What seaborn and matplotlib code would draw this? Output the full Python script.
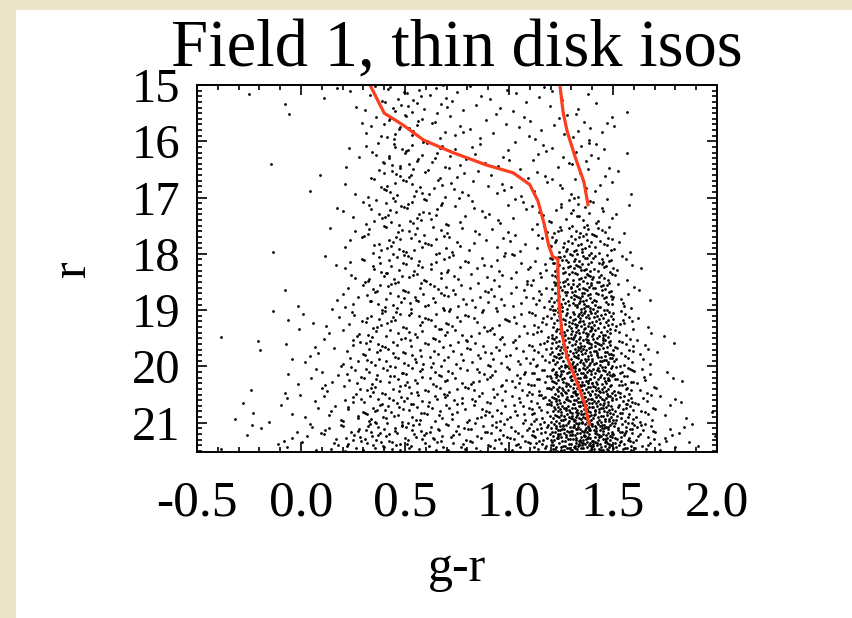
import numpy as np
import pandas as pd
import matplotlib
matplotlib.use("Agg")
import matplotlib.pyplot as plt
from matplotlib.ticker import MultipleLocator
from matplotlib.patches import Rectangle
import seaborn as sns

# star counts, per cell of 0.1 in g-r by 0.5 in r
color_edges = [round(-0.5 + 0.1 * i, 1) for i in range(25)]
mag_edges = [15.0, 15.5, 16.0, 16.5, 17.0, 17.5, 18.0, 18.5, 19.0, 19.5, 20.0, 20.5, 21.0]
counts = [
    [0, 0, 1, 0, 1, 0, 2, 2, 4, 8, 8, 5, 4, 3, 3, 3, 3, 2, 2, 1, 1, 0, 0, 0, 0],
    [0, 0, 0, 0, 1, 0, 0, 1, 4, 9, 8, 6, 4, 3, 3, 3, 3, 4, 6, 3, 1, 0, 0, 0, 0],
    [0, 0, 0, 1, 0, 0, 0, 3, 5, 10, 9, 7, 5, 4, 3, 3, 4, 4, 6, 4, 1, 0, 0, 0, 0],
    [0, 0, 0, 0, 0, 2, 0, 2, 6, 10, 9, 7, 5, 4, 4, 3, 4, 4, 5, 4, 2, 0, 0, 0, 0],
    [0, 0, 0, 0, 0, 0, 1, 3, 7, 11, 10, 8, 5, 4, 4, 4, 5, 7, 10, 7, 2, 0, 0, 0, 0],
    [0, 0, 0, 1, 0, 0, 1, 4, 8, 11, 10, 8, 6, 5, 5, 5, 7, 16, 22, 14, 4, 0, 0, 0, 0],
    [0, 0, 0, 0, 0, 0, 2, 5, 9, 12, 11, 9, 7, 6, 6, 6, 8, 25, 32, 22, 6, 1, 0, 0, 0],
    [0, 0, 0, 0, 2, 0, 2, 6, 10, 12, 11, 10, 8, 8, 7, 7, 10, 30, 40, 28, 8, 2, 0, 0, 0],
    [0, 1, 0, 1, 2, 2, 3, 7, 11, 12, 11, 10, 9, 8, 8, 8, 12, 34, 45, 34, 13, 3, 1, 0, 0],
    [0, 0, 1, 1, 2, 4, 3, 8, 12, 12, 11, 10, 9, 9, 9, 9, 14, 38, 48, 40, 18, 6, 2, 0, 0],
    [0, 0, 1, 0, 3, 3, 5, 9, 13, 13, 12, 11, 10, 10, 10, 11, 17, 42, 54, 45, 24, 9, 3, 1, 0],
    [0, 1, 2, 1, 4, 3, 5, 10, 14, 14, 13, 12, 11, 11, 11, 12, 19, 46, 58, 50, 28, 12, 5, 2, 1],
    [0, 1, 2, 2, 4, 6, 8, 14, 17, 16, 15, 14, 13, 13, 13, 15, 24, 54, 66, 58, 36, 16, 8, 4, 2],
]

# isochrones
iso1_color = [0.325, 0.40, 0.49, 0.59, 0.73, 0.89, 1.02, 1.10, 1.14, 1.17, 1.19, 1.21,
              1.235, 1.235, 1.24, 1.255, 1.28, 1.33, 1.365, 1.385]
iso1_r = [14.95, 15.50, 15.71, 15.98, 16.20, 16.42, 16.56, 16.77, 17.07, 17.48, 17.84, 18.05,
          18.09, 18.24, 18.83, 19.43, 19.84, 20.32, 20.67, 21.03]
iso2_color = [1.243, 1.26, 1.28, 1.32, 1.36, 1.38]
iso2_r = [14.95, 15.48, 15.83, 16.30, 16.72, 17.13]


def vdc(n, base):
    # van der Corput radical inverse, for an even spread inside a cell
    q, d = 0.0, 1.0
    while n:
        n, rem = divmod(n, base)
        d *= base
        q += rem / d
    return q


xs, ys = [], []
k = 0
for j, r0 in enumerate(mag_edges):
    for i, c0 in enumerate(color_edges):
        for _ in range(counts[j][i]):
            k += 1
            xs.append(c0 + 0.1 * vdc(k, 2))
            ys.append(r0 + 0.5 * vdc(k, 3))
stars = pd.DataFrame({"g-r": xs, "r": ys})

sns.set_style("ticks")
plt.rcParams["font.family"] = ["Liberation Serif", "DejaVu Serif"]
plt.rcParams["axes.unicode_minus"] = False
plt.rcParams["text.color"] = "black"
plt.rcParams["axes.labelcolor"] = "black"
plt.rcParams["xtick.color"] = "black"
plt.rcParams["ytick.color"] = "black"

fig = plt.figure(figsize=(8.53, 6.18), dpi=100)
fig.patch.set_facecolor("#ebe5c9")
panel = Rectangle((16 / 853, 0), 1, 1 - 10 / 618, transform=fig.transFigure,
                  facecolor="white", edgecolor="none", zorder=-5)
fig.add_artist(panel)
ax = fig.add_axes([197 / 853, 1 - 452 / 618, 520 / 853, 367 / 618])

sns.scatterplot(data=stars, x="g-r", y="r", s=4, color="black", linewidth=0, ax=ax)
sns.lineplot(x=iso1_color, y=iso1_r, sort=False, estimator=None, color="#ff3d1f", lw=2.3, ax=ax)
sns.lineplot(x=iso2_color, y=iso2_r, sort=False, estimator=None, color="#ff3d1f", lw=2.3, ax=ax)

ax.set_xlim(-0.5, 2.0)
ax.set_ylim(21.52, 15)
ax.xaxis.set_minor_locator(MultipleLocator(0.1))
ax.yaxis.set_minor_locator(MultipleLocator(0.1))
ax.set_xticks([-0.5, 0.0, 0.5, 1.0, 1.5, 2.0])
ax.set_xticklabels(["-0.5", "0.0", "0.5", "1.0", "1.5", "2.0"])
ax.set_yticks([15, 16, 17, 18, 19, 20, 21])
ax.tick_params(which="both", direction="in", top=True, right=True, width=1.2, color="black")
ax.tick_params(which="major", length=7)
ax.tick_params(which="minor", length=3.5)
ax.tick_params(axis="x", labelsize=37, pad=20)
ax.tick_params(axis="y", labelsize=35, pad=12)
for sp in ax.spines.values():
    sp.set_linewidth(1.4)
    sp.set_color("black")
    sp.set_visible(True)

ax.set_xlabel("g-r", fontsize=36, labelpad=14)
ax.set_ylabel("r", fontsize=36, labelpad=26)
ax.set_title("Field 1, thin disk isos", fontsize=48, pad=14)

fig.savefig("out.png", dpi=100, facecolor=fig.get_facecolor())
